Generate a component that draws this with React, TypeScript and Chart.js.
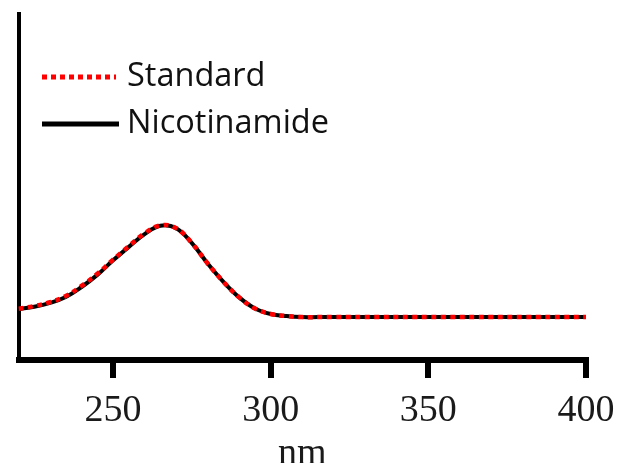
import React, { useEffect, useRef } from "react";
import { Chart, registerables } from "chart.js";

Chart.register(...registerables);

const wavelengths = [
  220, 225, 230, 235, 240, 245, 250, 255, 260, 265, 270, 275, 280, 285, 290, 295, 300, 305, 310,
  315, 320, 325, 330, 335, 340, 345, 350, 355, 360, 365, 370, 375, 380, 385, 390, 395, 400,
];
const standardValues = [
  0.148, 0.156, 0.167, 0.185, 0.214, 0.249, 0.290, 0.329, 0.366, 0.389, 0.381, 0.338, 0.279, 0.226,
  0.181, 0.149, 0.133, 0.127, 0.124, 0.124, 0.124, 0.124, 0.124, 0.124, 0.124, 0.124, 0.124, 0.124,
  0.124, 0.124, 0.124, 0.124, 0.124, 0.124, 0.124, 0.124, 0.124,
];
const nicotinamideValues = [
  0.147, 0.154, 0.165, 0.182, 0.211, 0.246, 0.288, 0.327, 0.364, 0.388, 0.381, 0.338, 0.279, 0.226,
  0.181, 0.149, 0.133, 0.127, 0.124, 0.124, 0.124, 0.124, 0.124, 0.124, 0.124, 0.124, 0.124, 0.124,
  0.124, 0.124, 0.124, 0.124, 0.124, 0.124, 0.124, 0.124, 0.124,
];
const xTickValues = [250, 300, 350, 400];
const seriesLabels = ["Standard", "Nicotinamide"];
const xAxisTitle = "nm";

const insideLegend = {
  id: "insideLegend",
  afterDraw(chart: any) {
    const ctx = chart.ctx as CanvasRenderingContext2D;
    const rows = [77, 124];
    const ends = [116, 119];
    ctx.save();
    chart.data.datasets.forEach((ds: any, i: number) => {
      const y = rows[i];
      ctx.beginPath();
      ctx.strokeStyle = ds.borderColor;
      ctx.lineWidth = 5;
      ctx.setLineDash(ds.borderDash ? [5, 4] : []);
      ctx.moveTo(42, y);
      ctx.lineTo(ends[i], y);
      ctx.stroke();
      ctx.setLineDash([]);
      ctx.fillStyle = "#111111";
      ctx.font = "32.5px 'Open Sans'";
      ctx.textBaseline = "middle";
      ctx.textAlign = "left";
      ctx.fillText(ds.label, 127, y);
    });
    ctx.restore();
  },
};

export default function App() {
  const canvasRef = useRef<HTMLCanvasElement | null>(null);

  useEffect(() => {
    document.body.style.margin = "0";
    const canvas = canvasRef.current;
    if (!canvas) return;
    const chart = new Chart(canvas, {
      type: "line",
      data: {
        datasets: [
          {
            label: seriesLabels[0],
            data: wavelengths.map((x, i) => ({ x, y: standardValues[i] })),
            borderColor: "#ff0000",
            borderWidth: 4.5,
            borderDash: [5, 4.5],
            pointRadius: 0,
            fill: false,
            tension: 0.4,
          },
          {
            label: seriesLabels[1],
            data: wavelengths.map((x, i) => ({ x, y: nicotinamideValues[i] })),
            borderColor: "#000000",
            borderWidth: 4,
            pointRadius: 0,
            fill: false,
            tension: 0.4,
          },
        ],
      },
      options: {
        animation: false,
        responsive: false,
        devicePixelRatio: 1,
        layout: { padding: { left: 18.5, right: 50, top: 14, bottom: 0 } },
        plugins: {
          legend: { display: false },
          tooltip: { enabled: false },
        },
        scales: {
          x: {
            type: "linear",
            min: 220,
            max: 400,
            afterBuildTicks: (axis: any) => {
              axis.ticks = xTickValues.map((v) => ({ value: v }));
            },
            grid: {
              display: true,
              drawOnChartArea: false,
              drawTicks: true,
              tickLength: 18,
              lineWidth: 6,
              tickWidth: 6,
              tickColor: "#000000",
              color: "#000000",
            },
            border: { display: true, color: "#000000", width: 6 },
            ticks: {
              color: "#1a1a1a",
              font: { family: "'Liberation Serif'", size: 38, lineHeight: 1.2 },
              padding: 10,
              maxRotation: 0,
              autoSkip: false,
            },
            title: {
              display: true,
              text: xAxisTitle,
              color: "#1a1a1a",
              font: { family: "'Liberation Serif'", size: 38, lineHeight: 1.2 },
              padding: { top: -12.4, bottom: -13.8 },
            },
          },
          y: {
            type: "linear",
            min: 0,
            max: 1,
            grid: { display: false, drawTicks: false, lineWidth: 4 },
            border: { display: true, color: "#000000", width: 4 },
            ticks: { display: false },
          },
        },
      },
      plugins: [insideLegend],
    });
    return () => chart.destroy();
  }, []);

  return (
    <div style={{ width: 636, height: 463 }}>
      <canvas ref={canvasRef} width={636} height={463} style={{ display: "block" }} />
    </div>
  );
}
